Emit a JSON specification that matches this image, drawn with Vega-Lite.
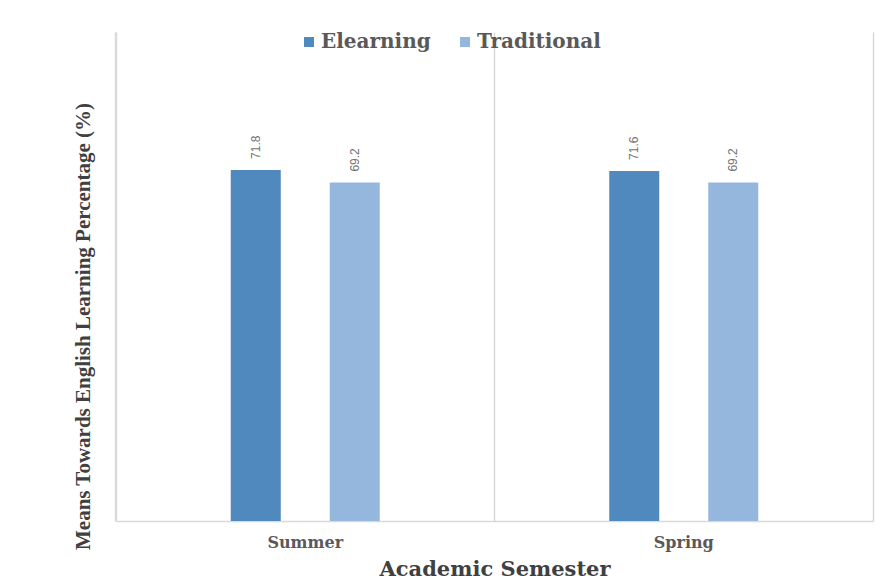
{
  "$schema": "https://vega.github.io/schema/vega-lite/v6.json",
  "autosize": {"type": "none"},
  "width": 757,
  "height": 489,
  "padding": {"left": 116, "top": 32, "right": 12, "bottom": 61},
  "background": "white",
  "config": {
    "view": {"stroke": null}
  },
  "data": {
    "values": [
      {"semester": "Summer", "method": "Elearning", "value": 71.8},
      {"semester": "Summer", "method": "Traditional", "value": 69.2},
      {"semester": "Spring", "method": "Elearning", "value": 71.6},
      {"semester": "Spring", "method": "Traditional", "value": 69.2}
    ]
  },
  "encoding": {
    "x": {
      "field": "semester",
      "type": "nominal",
      "sort": ["Summer", "Spring"],
      "scale": {"paddingInner": 0.0832, "paddingOuter": 0.0416},
      "axis": {
        "title": "Academic Semester",
        "titleFont": "DejaVu Serif",
        "titleFontSize": 21,
        "titleFontWeight": "bold",
        "titleColor": "#404040",
        "titlePadding": 8,
        "labelFont": "DejaVu Serif",
        "labelFontSize": 16,
        "labelFontWeight": "bold",
        "labelColor": "#595959",
        "labelAngle": 0,
        "labelPadding": 13,
        "ticks": false,
        "bandPosition": -0.0454,
        "grid": true,
        "gridColor": "#d9d9d9",
        "gridWidth": 1.5,
        "domainColor": "#d9d9d9",
        "domainWidth": 1.5
      }
    },
    "xOffset": {
      "field": "method",
      "type": "nominal",
      "sort": ["Elearning", "Traditional"],
      "scale": {"paddingInner": 0.495, "paddingOuter": 1}
    },
    "y": {
      "field": "value",
      "type": "quantitative",
      "scale": {"domain": [0, 100], "nice": false}
    },
    "color": {
      "field": "method",
      "type": "nominal",
      "sort": ["Elearning", "Traditional"],
      "scale": {"domain": ["Elearning", "Traditional"], "range": ["#4F89BD", "#95B7DD"]},
      "legend": {
        "title": null,
        "orient": "none",
        "direction": "horizontal",
        "legendX": 183,
        "legendY": 0,
        "padding": 0,
        "symbolType": "square",
        "symbolSize": 100,
        "symbolStrokeWidth": 0,
        "labelFont": "DejaVu Serif",
        "labelFontSize": 20,
        "labelFontWeight": "bold",
        "labelColor": "#595959",
        "labelOffset": 2,
        "columnPadding": 24,
        "labelLimit": 300
      }
    }
  },
  "layer": [
    {
      "mark": {"type": "bar"},
      "encoding": {
        "y": {
          "field": "value",
          "type": "quantitative",
          "axis": {
            "orient": "left",
            "title": "Means Towards  English Learning Percentage (%)",
            "titleFont": "Liberation Serif",
            "titleFontSize": 21,
            "titleFontWeight": "bold",
            "titleColor": "#404040",
            "titlePadding": 23,
            "titleY": 294,
            "labels": false,
            "ticks": false,
            "grid": false,
            "domainColor": "#d9d9d9",
            "domainWidth": 1.5
          }
        }
      }
    },
    {
      "mark": {
        "type": "text",
        "angle": 270,
        "align": "left",
        "baseline": "middle",
        "dx": 11,
        "font": "Liberation Sans",
        "fontSize": 12,
        "color": "#737373"
      },
      "encoding": {
        "text": {"field": "value", "type": "quantitative", "format": ".1f"},
        "color": {"value": "#737373"},
        "y": {
          "field": "value",
          "type": "quantitative",
          "axis": {
            "orient": "right",
            "title": null,
            "labels": false,
            "ticks": false,
            "grid": false,
            "domainColor": "#d9d9d9",
            "domainWidth": 1.5
          }
        }
      }
    }
  ],
  "resolve": {"axis": {"y": "independent"}}
}
